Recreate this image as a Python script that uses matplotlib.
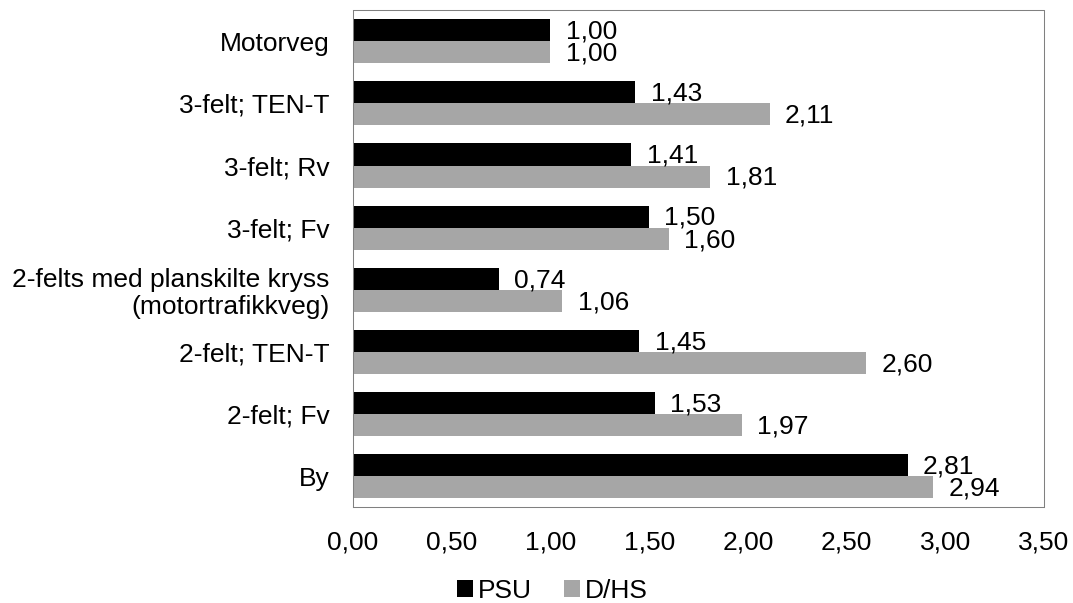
import numpy as np
import matplotlib.pyplot as plt
from matplotlib.ticker import FuncFormatter

# ============== data ==============
categories = ["Motorveg", "3-felt; TEN-T", "3-felt; Rv", "3-felt; Fv",
              "2-felts med planskilte kryss\n(motortrafikkveg)",
              "2-felt; TEN-T", "2-felt; Fv", "By"]
psu = [1.00, 1.43, 1.41, 1.50, 0.74, 1.45, 1.53, 2.81]
dhs = [1.00, 2.11, 1.81, 1.60, 1.06, 2.60, 1.97, 2.94]
series_names = ["PSU", "D/HS"]
xticks = [0.0, 0.5, 1.0, 1.5, 2.0, 2.5, 3.0, 3.5]

plt.rcParams['font.family'] = ['Liberation Sans', 'DejaVu Sans']
FS = 19

def comma(v):
    return f"{v:.2f}".replace('.', ',')

fig = plt.figure(figsize=(10.73, 6.03), dpi=100)
ax = fig.add_axes([0.329, 0.159, 0.644, 0.824])

y = np.arange(len(categories))
h = 0.355
b1 = ax.barh(y - h/2, psu, height=h, color='#000000', label=series_names[0])
b2 = ax.barh(y + h/2, dhs, height=h, color='#a6a6a6', label=series_names[1])

for bars, vals in ((b1, psu), (b2, dhs)):
    for bar, v in zip(bars, vals):
        ax.annotate(comma(v), (v, bar.get_y() + bar.get_height()/2),
                    xytext=(11, -1), textcoords='offset points',
                    ha='left', va='center', fontsize=FS, color='black')

ax.set_ylim(len(categories) - 0.5, -0.5)
ax.set_xlim(0, 3.5)
ax.set_yticks(y)
ax.set_yticklabels(categories, fontsize=FS, linespacing=1.15)
ax.set_xticks(xticks)
ax.xaxis.set_major_formatter(FuncFormatter(lambda v, p: comma(v)))
ax.tick_params(axis='x', length=0, pad=17, labelsize=FS)
ax.tick_params(axis='y', length=0, pad=17)

# dotted frame round the plot area
for s in ax.spines.values():
    s.set_linestyle((0, (1, 1)))
    s.set_color('#808080')
    s.set_linewidth(0.75)

fig.legend(handles=[b1, b2], labels=series_names, loc='center',
           bbox_to_anchor=(0.515, 0.02), ncol=2, frameon=False, fontsize=FS,
           handlelength=0.6, handleheight=0.6, handletextpad=0.2,
           columnspacing=1.2)

fig.savefig("out.png", dpi=100)
